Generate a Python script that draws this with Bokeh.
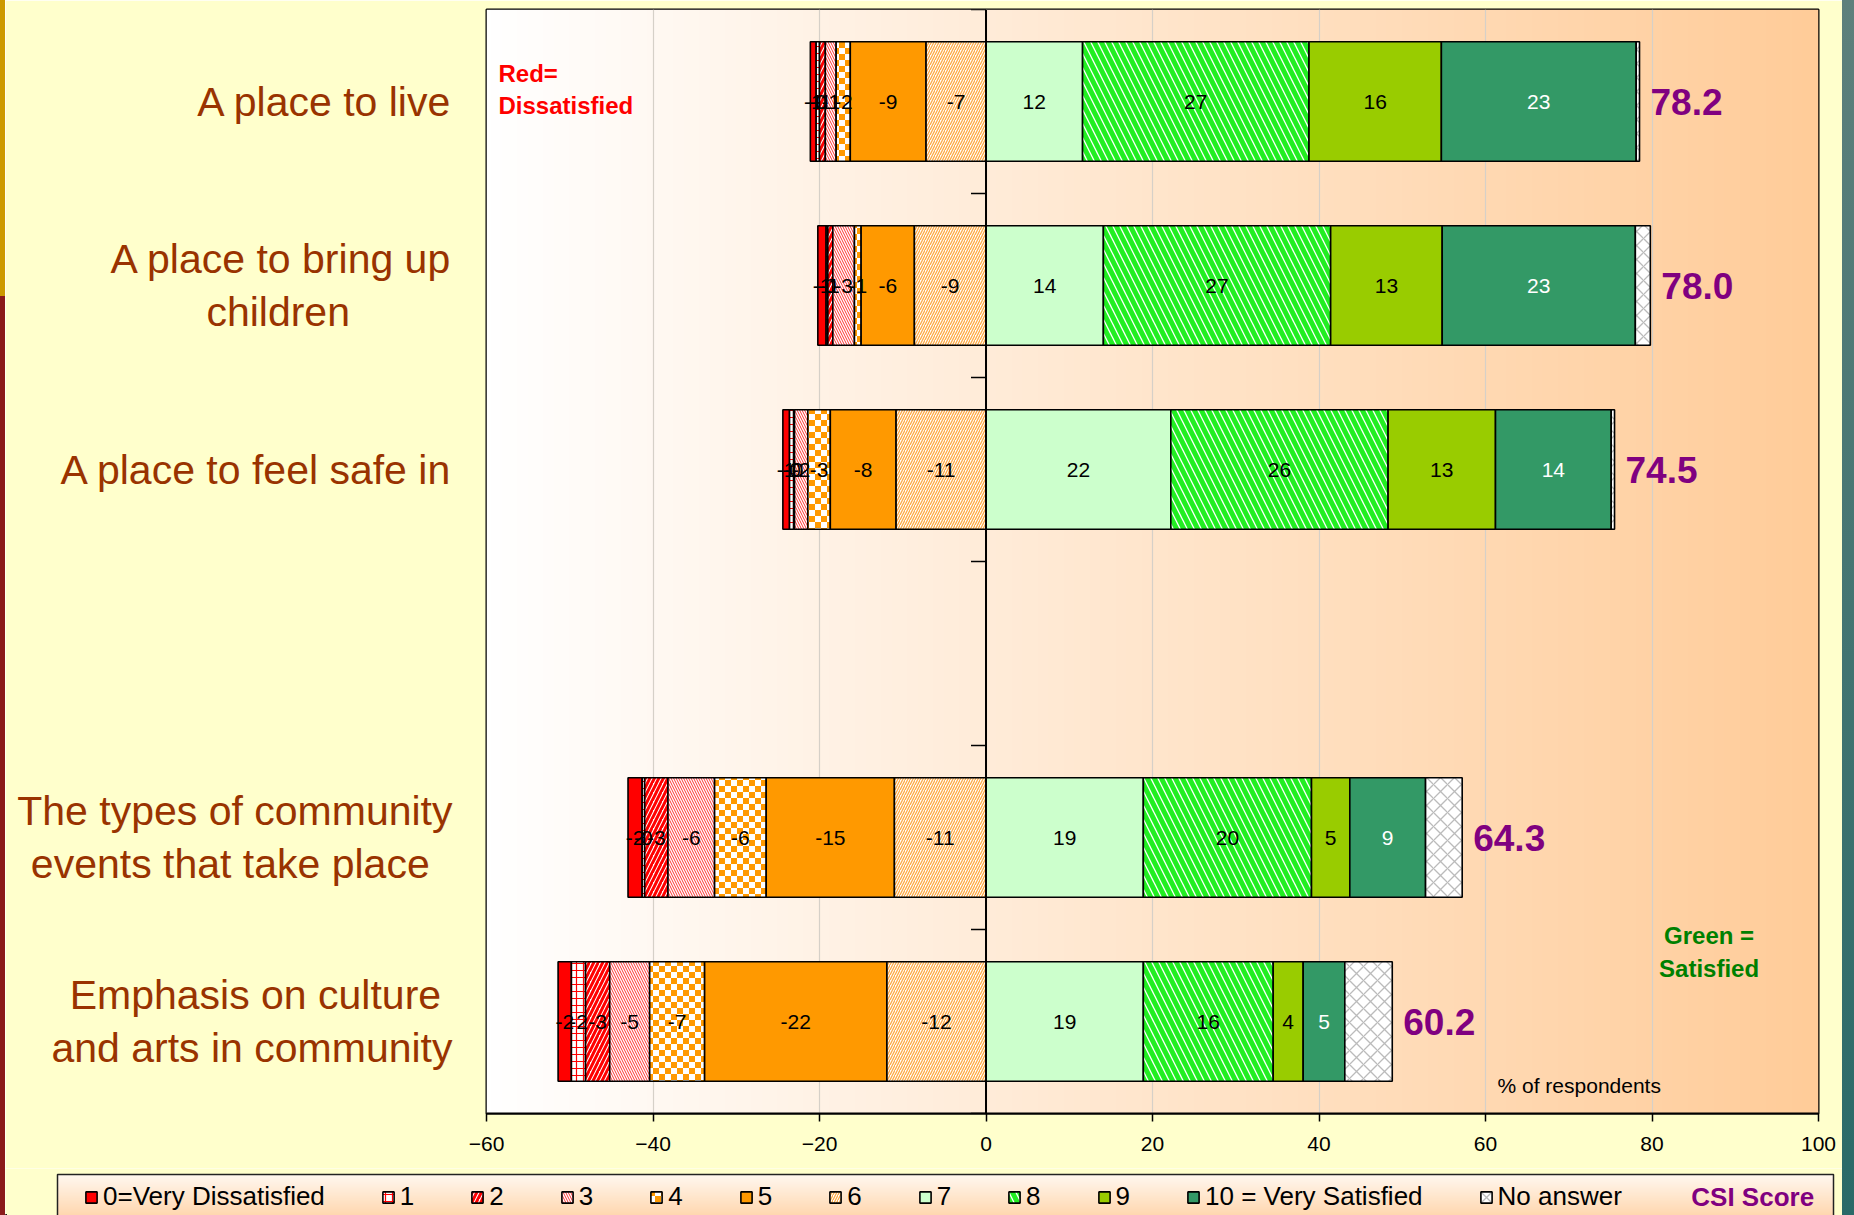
import zlib, struct, base64
import numpy as np
from bokeh.plotting import figure
from bokeh.layouts import row, column
from bokeh.models import (Range1d, FixedTicker, Span, Label, Legend, LegendItem, LinearAxis,
                          ColumnDataSource, ImageURLTexture, Div)
from bokeh.core.properties import value
from bokeh.embed import file_html
from bokeh.resources import INLINE

# ---------------- data ----------------
categories = ["A place to live",
              "A place to bring up children",
              "A place to feel safe in",
              "The types of community events that take place",
              "Emphasis on culture and arts in community"]
category_lines = [["A place to live"],
                  ["A place to bring up", "children"],
                  ["A place to feel safe in"],
                  ["The types of community", "events that take place"],
                  ["Emphasis on culture", "and arts in community"]]
slot_index = [0, 1, 2, 4, 5]   # top-down slot of each category (slot 3 is empty)
n_slots = 6

r0 = [-0.7, -1.0, -0.8, -1.7, -1.6]
r1 = [-0.4, -0.2, -0.5, -0.3, -1.7]
r2 = [-0.7, -0.6, -0.1, -2.8, -2.9]
r3 = [-1.3, -2.6, -1.6, -5.6, -4.8]
r4 = [-1.7, -0.8, -2.7, -6.2, -6.6]
r5 = [-9.1, -6.4, -7.9, -15.4, -21.9]
r6 = [-7.2, -8.6, -10.8, -11.0, -11.9]
r7 = [11.6, 14.1, 22.2, 18.9, 18.9]
r8 = [27.2, 27.3, 26.1, 20.2, 15.6]
r9 = [15.9, 13.4, 12.9, 4.6, 3.6]
r10 = [23.4, 23.2, 13.9, 9.1, 5.0]
no_answer = [0.4, 1.8, 0.4, 4.4, 5.7]
csi = [78.2, 78.0, 74.5, 64.3, 60.2]

series_names = ["0=Very Dissatisfied", "1", "2", "3", "4", "5", "6", "7", "8", "9",
                "10 = Very Satisfied", "No answer"]
series_values = [r0, r1, r2, r3, r4, r5, r6, r7, r8, r9, r10, no_answer]
x_ticks = [-60, -40, -20, 0, 20, 40, 60, 80, 100]

# ---------------- layout (page pixels) ----------------
FONT = "Liberation Sans"
PAGE_W, PAGE_H = 1854, 1215
LEFT_BAR, RIGHT_BAR = 5, 12
FIG_W = PAGE_W - LEFT_BAR - RIGHT_BAR
MAIN_H = 1168
LEG_H = PAGE_H - MAIN_H
FRAME_L, FRAME_R, FRAME_T, FRAME_B = 486, 1818, 9, 1113
XMIN, XMAX = -60, 100
px_x = (FRAME_R - FRAME_L) / (XMAX - XMIN)
px_y = (FRAME_B - FRAME_T) / n_slots


def dx(page_x):
    return XMIN + (page_x - FRAME_L) / px_x


def dy(page_y):
    return n_slots - (page_y - FRAME_T) / px_y


def checker_uri(c1, c2, sq):
    w = h = 2 * sq
    raw = b""
    for yy in range(h):
        raw += b"\x00"
        for xx in range(w):
            raw += bytes(c1 if ((xx // sq) + (yy // sq)) % 2 == 0 else c2)

    def chunk(t, d):
        return struct.pack(">I", len(d)) + t + d + struct.pack(">I", zlib.crc32(t + d) & 0xffffffff)
    png = (b"\x89PNG\r\n\x1a\n" + chunk(b"IHDR", struct.pack(">IIBBBBB", w, h, 8, 2, 0, 0, 0))
           + chunk(b"IDAT", zlib.compress(raw)) + chunk(b"IEND", b""))
    return "data:image/png;base64," + base64.b64encode(png).decode()


def gradient(c0, c1, n, vertical=False):
    t = np.linspace(0, 1, n)
    img = np.empty((n, 1) if vertical else (1, n), dtype=np.uint32)
    v = img.view(dtype=np.uint8).reshape(img.shape + (4,))
    for ch in range(3):
        col = (c0[ch] + (c1[ch] - c0[ch]) * t).astype(np.uint8)
        v[..., ch] = col.reshape(img.shape)
    v[..., 3] = 255
    return img


p = figure(width=FIG_W, height=MAIN_H, x_range=Range1d(XMIN, XMAX), y_range=Range1d(0, n_slots),
           output_backend="svg", toolbar_location=None, title=None, y_axis_location=None,
           min_border_left=FRAME_L - LEFT_BAR, min_border_right=LEFT_BAR + FIG_W - FRAME_R,
           min_border_top=FRAME_T, min_border_bottom=MAIN_H - FRAME_B)
p.border_fill_color = "#FFFFCC"
p.background_fill_color = "white"
p.outline_line_color = "black"
p.outline_line_width = 2

# plot-area gradient background
p.image_rgba(image=[gradient((255, 255, 255), (255, 204, 153), 256)], x=XMIN, y=0,
             dw=XMAX - XMIN, dh=n_slots, level="image")

p.xgrid.ticker = FixedTicker(ticks=x_ticks)
p.xgrid.grid_line_color = "#D6D0C8"
p.xgrid.grid_line_width = 1.2
p.ygrid.visible = False

ax = p.xaxis[0]
ax.ticker = FixedTicker(ticks=x_ticks)
ax.axis_line_color = "black"
ax.axis_line_width = 2
ax.major_tick_line_color = "black"
ax.major_tick_line_width = 1.5
ax.major_tick_out = 8
ax.major_tick_in = 0
ax.minor_tick_line_color = None
ax.major_label_text_font = FONT
ax.major_label_text_font_size = "21px"
ax.major_label_text_color = "black"
ax.major_label_standoff = 15

# ---------------- category axis (left) ----------------
AW = {' ': 278, '\u00a0': 278, 'A': 667, 'E': 667, 'T': 611, 'a': 556, 'b': 556, 'c': 500,
      'd': 556, 'e': 556, 'f': 278, 'g': 556, 'h': 556, 'i': 222, 'k': 500, 'l': 222,
      'm': 833, 'n': 556, 'o': 556, 'p': 556, 'r': 333, 's': 500, 't': 278, 'u': 556,
      'v': 500, 'y': 500}


def text_w(s):
    return sum(AW.get(ch, 556) for ch in s)


yc = [n_slots - s - 0.5 for s in slot_index]
overrides = {}
for y, lines in zip(yc, category_lines):
    wmax = max(text_w(ln) for ln in lines)
    out = []
    for ln in lines:
        k = int(round((wmax - text_w(ln)) / 2 / 278))
        out.append("\u00a0" * k + ln + "\u00a0" * k)
    overrides[y] = "\n".join(out)

yax = LinearAxis(ticker=FixedTicker(ticks=yc), major_label_overrides=overrides)
yax.axis_line_color = None
yax.major_tick_line_color = None
yax.minor_tick_line_color = None
yax.major_tick_out = 0
yax.major_tick_in = 0
yax.major_label_standoff = FRAME_L - 452
yax.major_label_text_font = FONT
yax.major_label_text_font_size = "41px"
yax.major_label_text_color = "#993300"
yax.major_label_text_line_height = 1.17
p.add_layout(yax, "left")

# ---------------- styles ----------------
checker = ImageURLTexture(url=checker_uri((255, 153, 0), (255, 255, 255), 6), repetition="repeat")
styles = [
    dict(fill_color="#FF0000"),
    dict(fill_color="white", hatch_pattern="+", hatch_color="#FF0000", hatch_scale=7, hatch_weight=1.2),
    dict(fill_color="white", hatch_pattern="/", hatch_color="#FF0000", hatch_scale=9, hatch_weight=3),
    dict(fill_color="white", hatch_pattern="\\", hatch_color="#FF3333", hatch_scale=5, hatch_weight=1),
    dict(fill_color="white", hatch_pattern=value("checker"), hatch_extra={"checker": checker}),
    dict(fill_color="#FF9900"),
    dict(fill_color="white", hatch_pattern="/", hatch_color="#FFAA44", hatch_scale=5, hatch_weight=1.3),
    dict(fill_color="#CCFFCC"),
    dict(fill_color="white", hatch_pattern="\\", hatch_color="#22EE22", hatch_scale=14, hatch_weight=5),
    dict(fill_color="#99CC00"),
    dict(fill_color="#339966"),
    dict(fill_color="white", hatch_pattern="x", hatch_color="#BBBBBB", hatch_scale=14, hatch_weight=1.3),
]
label_colors = ["black"] * 10 + ["white", None]

BAR_H = 0.65
renderers = []
lab_x, lab_y, lab_t, lab_c = [], [], [], []
for k, vals in enumerate(series_values):
    lefts, rights = [], []
    for i, v in enumerate(vals):
        if k <= 6:
            right = sum(series_values[j][i] for j in range(k + 1, 7))
            left = right + v
        else:
            left = sum(series_values[j][i] for j in range(7, k))
            right = left + v
        lefts.append(left)
        rights.append(right)
        if label_colors[k] is not None:
            lab_x.append((left + right) / 2)
            lab_y.append(yc[i])
            lab_t.append(("-" if v < 0 else "") + str(int(round(abs(v)))))
            lab_c.append(label_colors[k])
    src = ColumnDataSource(dict(y=yc, left=lefts, right=rights))
    r = p.hbar(y="y", left="left", right="right", height=BAR_H, source=src,
               line_color="black", line_width=1.6, **styles[k])
    renderers.append(r)

p.text(x=lab_x, y=lab_y, text=lab_t, text_color=lab_c, text_align="center",
       text_baseline="middle", text_font=value(FONT), text_font_size="21px")

# CSI score labels
tot = [sum(series_values[j][i] for j in range(7, 12)) for i in range(len(categories))]
p.text(x=tot, y=yc, text=[f"{c:.1f}" for c in csi], x_offset=11, text_align="left",
       text_baseline="middle", text_font=value(FONT), text_font_size="37px",
       text_font_style="bold", text_color="#800080")

# zero axis and its ticks at category boundaries
p.add_layout(Span(location=0, dimension="height", line_color="black", line_width=2))
bounds = list(range(n_slots + 1))
p.segment(x0=[-15 / px_x] * len(bounds), x1=[0] * len(bounds), y0=bounds, y1=bounds,
          line_color="black", line_width=1.5)

# notes inside the plot area
for txt, py in [("Red=", 73.3), ("Dissatisfied", 105.2)]:
    p.add_layout(Label(x=dx(498), y=dy(py), text=txt, text_align="left",
                       text_baseline="middle", text_font=FONT, text_font_size="24px",
                       text_font_style="bold", text_color="#FF0000"))
for txt, py in [("Green =", 935.3), ("Satisfied", 968.4)]:
    p.add_layout(Label(x=dx(1708.6), y=dy(py), text=txt, text_align="center",
                       text_baseline="middle", text_font=FONT, text_font_size="24px",
                       text_font_style="bold", text_color="#008000"))
p.add_layout(Label(x=dx(1497), y=dy(1085.4), text="% of respondents", text_align="left",
                   text_baseline="middle", text_font=FONT, text_font_size="21px",
                   text_color="black"))

# ---------------- legend strip ----------------
leg = figure(width=FIG_W, height=LEG_H, x_range=Range1d(0, FIG_W), y_range=Range1d(0, LEG_H),
             output_backend="svg", toolbar_location=None, title=None,
             x_axis_location=None, y_axis_location=None,
             min_border_left=0, min_border_right=0, min_border_top=0, min_border_bottom=0)
try:
    leg.frame_align = False
except AttributeError:
    pass
leg.border_fill_color = "#FFFFCC"
leg.background_fill_color = "#FFFFCC"
leg.outline_line_color = None
leg.xgrid.visible = False
leg.ygrid.visible = False

BOX_L, BOX_R, BOX_T = 57 - LEFT_BAR, 1833 - LEFT_BAR, PAGE_H - 1174
leg.image_rgba(image=[gradient((255, 211, 166), (255, 248, 240), 64, vertical=True)],
               x=BOX_L, y=-6, dw=BOX_R - BOX_L, dh=BOX_T + 6, level="image")
leg.quad(left=[BOX_L], right=[BOX_R], top=[BOX_T], bottom=[-10], fill_color=None,
         line_color="#222222", line_width=1.5)

leg_renderers = [leg.hbar(y=[-100], left=[0], right=[1], height=1, line_color="black",
                          line_width=1.6, **st) for st in styles]
items = [LegendItem(label=nm, renderers=[r]) for nm, r in zip(series_names, leg_renderers)]
legend = Legend(items=items, orientation="horizontal", location=(79, 2.9),
                glyph_width=14, glyph_height=14, label_standoff=5, spacing=56,
                label_width=0, padding=10, margin=0, label_text_font=FONT,
                label_text_font_size="26px", label_text_color="black",
                background_fill_alpha=0, border_line_color=None)
leg.add_layout(legend)
leg.add_layout(Label(x=1690.8 - LEFT_BAR, y=PAGE_H - 1196.6, text="CSI Score", text_align="left",
                     text_baseline="middle", text_font=FONT, text_font_size="26px",
                     text_font_style="bold", text_color="#800080"))

left_bar = Div(width=LEFT_BAR, height=PAGE_H, margin=0,
               styles={"background": "linear-gradient(#CC9900 0px, #CC9900 296px, #8B1A1A 296px, #8B1A1A 100%)"})
right_bar = Div(width=RIGHT_BAR, height=PAGE_H, margin=0,
                styles={"background": "linear-gradient(#5E807C, #2A6A68)"})

layout = row(left_bar, column(p, row(leg, spacing=0), spacing=0), right_bar, spacing=0)
open("out.html", "w").write(file_html(layout, INLINE))
